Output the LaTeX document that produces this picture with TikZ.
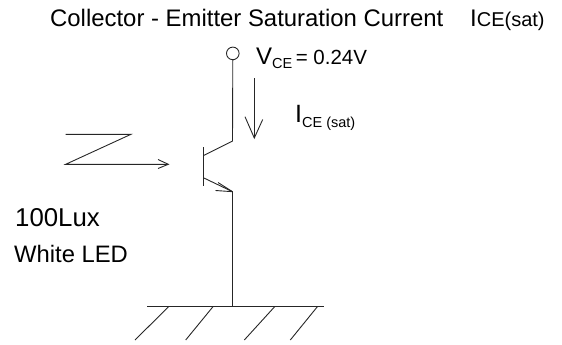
\documentclass[tikz,border=0pt]{standalone}
\usepackage{fontspec}
\setmainfont{Liberation Sans}
\tikzset{
  wire/.style={draw=black!85,line width=0.9pt},
  lbl/.style={inner sep=0pt,anchor=base west,text=black},
}
\newcommand{\fs}[1]{\fontsize{#1}{#1}\selectfont}
\begin{document}
\begin{tikzpicture}[x=1pt,y=-1pt]
\useasboundingbox (0,0) rectangle (562,345);
\coordinate (c) at (232.5,141);
\coordinate (bc) at (203.3,155.7);
\coordinate (be) at (203.3,177.7);
\coordinate (e) at (232.5,191.7);
\coordinate (gnd) at (232.5,306.3);
\node[draw=black!85,line width=0.9pt,circle,minimum size=12.6pt,inner sep=0pt] (term) at (232.8,53.4) {};
\draw[wire] (term.south) -- (c) -- (bc);
\draw[wire] (203.3,147) -- (203.3,186);
\draw[wire] (be) -- (e) -- (gnd);
\draw[wire] (e) -- (215.5,190.5);
\draw[wire] (e) -- (218,182.5);
% ground
\draw[wire] (147,306.3) -- (323.7,306.3);
\draw[wire] (169,306.3) -- (135,340);
\draw[wire] (213.3,306.3) -- (185.7,340);
\draw[wire] (275,306.3) -- (244.3,340);
\draw[wire] (317.7,306.3) -- (290.3,340);
% current arrow
\coordinate (it) at (254.3,78);
\coordinate (ib) at (254.3,138);
\draw[wire] (it) -- (ib);
\draw[wire] (245,116.7) -- (ib) -- (262.7,119.5);
% light
\coordinate (z1) at (65.7,134.3);
\coordinate (z2) at (131,134.3);
\coordinate (z3) at (65.7,164.3);
\coordinate (z4) at (168.3,164.3);
\draw[wire,line join=miter] (z1) -- (z2) -- (z3) -- (z4);
\draw[wire] (158,159.5) -- (z4) -- (158,168.5);
% text
\node[lbl] (title) at (50,27) {\fs{23.9}Collector - Emitter Saturation Current};
\node[lbl] (ice) at (470,27) {\fs{24}I\fs{20}CE(sat)};
\node[lbl] (vce) at (256,64.5) {\fs{24}V\raisebox{-3.5pt}{\fs{14.5}CE}\fs{20.5}\,= 0.24V};
\node[lbl] (isat) at (295,122) {\fs{25}I\raisebox{-5pt}{\fs{14.5}CE (sat)}};
\node[lbl] (lux) at (15,226) {\fs{25.8}100Lux};
\node[lbl] (led) at (14,262.5) {\fs{23.8}White LED};
\end{tikzpicture}
\end{document}
